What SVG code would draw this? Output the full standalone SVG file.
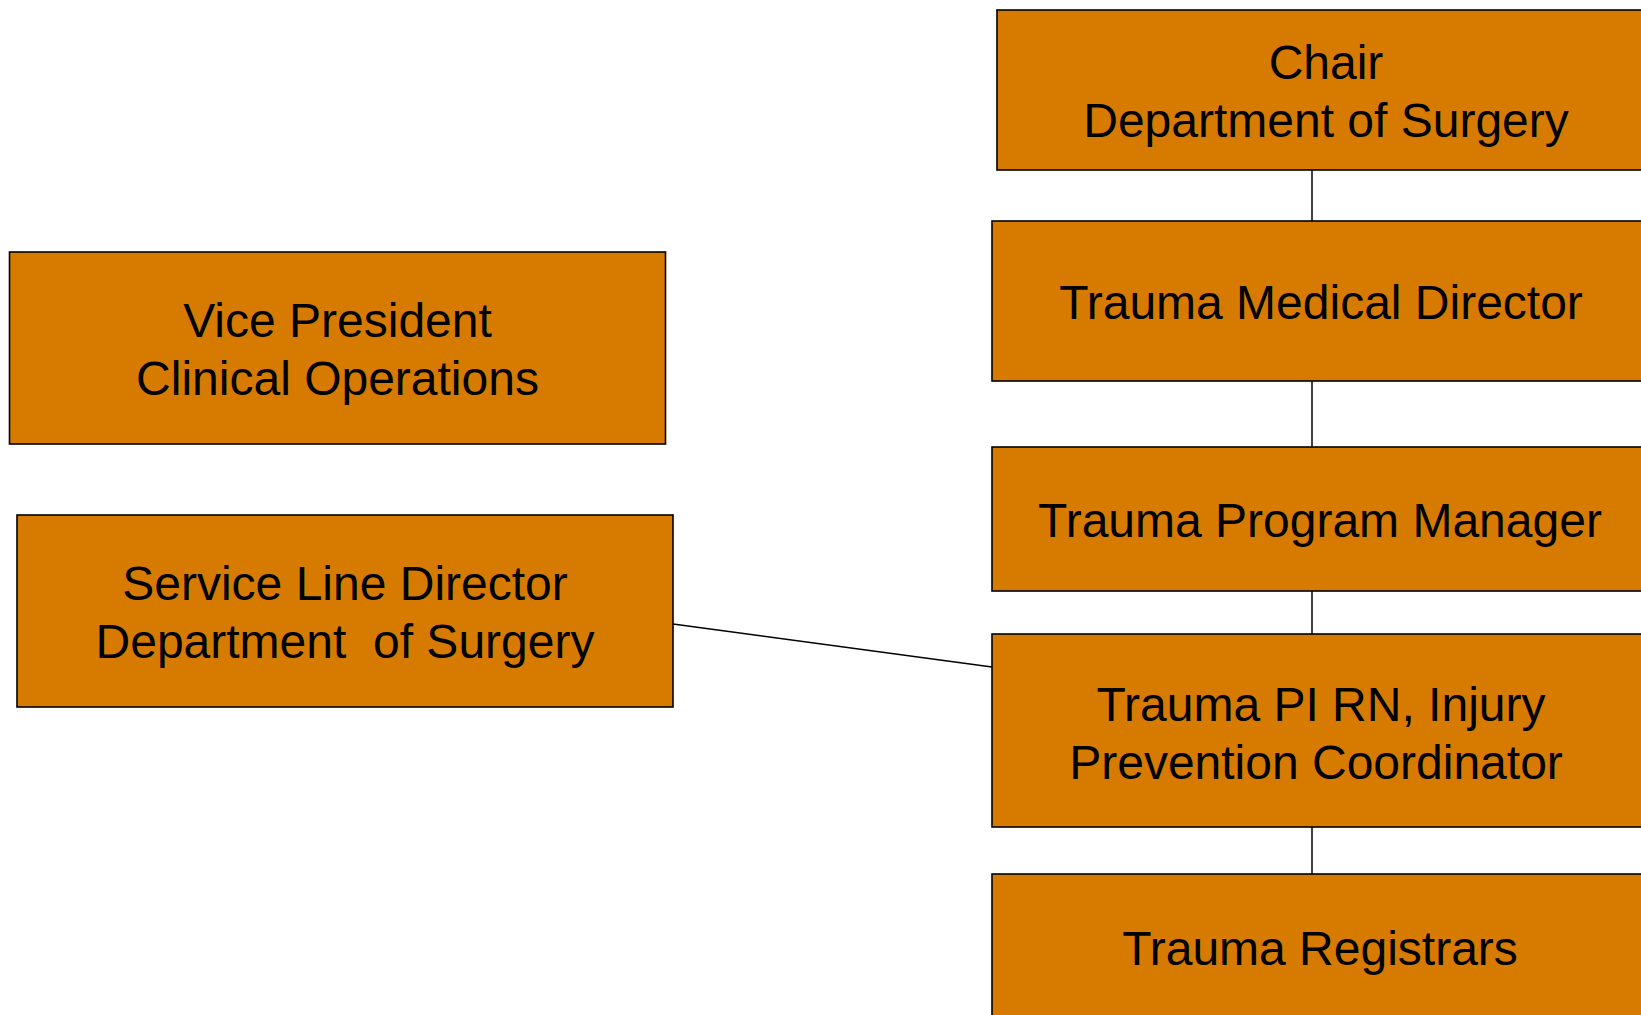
<svg xmlns="http://www.w3.org/2000/svg" width="1641" height="1015" viewBox="0 0 1641 1015">
<style>
.box{fill:#D77B00;stroke:#000;stroke-width:1.6}
.t{font-family:"Liberation Sans",Arial,sans-serif;font-size:48px;fill:#000;text-anchor:middle;white-space:pre}
.c{stroke:#000;stroke-width:1.5;fill:none}
</style>
<rect width="1641" height="1015" fill="#fff"/>
<g id="connectors">
<line class="c" x1="1312" y1="170" x2="1312" y2="221"/>
<line class="c" x1="1312" y1="381" x2="1312" y2="447"/>
<line class="c" x1="1312" y1="591" x2="1312" y2="634"/>
<line class="c" x1="1312" y1="827" x2="1312" y2="874"/>
<line class="c" x1="673" y1="624" x2="992" y2="667"/>
</g>
<g id="chair">
<rect class="box" x="997" y="10" width="660" height="160"/>
<text class="t" x="1326" y="79">Chair</text>
<text class="t" x="1326" y="137">Department of Surgery</text>
</g>
<g id="tmd">
<rect class="box" x="992" y="221" width="660" height="160"/>
<text class="t" x="1321" y="319">Trauma Medical Director</text>
</g>
<g id="tpm">
<rect class="box" x="992" y="447" width="660" height="144"/>
<text class="t" x="1320" y="537">Trauma Program Manager</text>
</g>
<g id="pirn">
<rect class="box" x="992" y="634" width="660" height="193"/>
<text class="t" x="1321" y="721">Trauma PI RN, Injury</text>
<text class="t" x="1316" y="779">Prevention Coordinator</text>
</g>
<g id="registrars">
<rect class="box" x="992" y="874" width="660" height="160"/>
<text class="t" x="1320" y="965">Trauma Registrars</text>
</g>
<g id="vp">
<rect class="box" x="9.5" y="252" width="656" height="192"/>
<text class="t" x="337.5" y="337">Vice President</text>
<text class="t" x="337.5" y="395">Clinical Operations</text>
</g>
<g id="sld">
<rect class="box" x="17" y="515" width="656" height="192"/>
<text class="t" x="345" y="600">Service Line Director</text>
<text class="t" x="345" y="658">Department  of Surgery</text>
</g>
</svg>
